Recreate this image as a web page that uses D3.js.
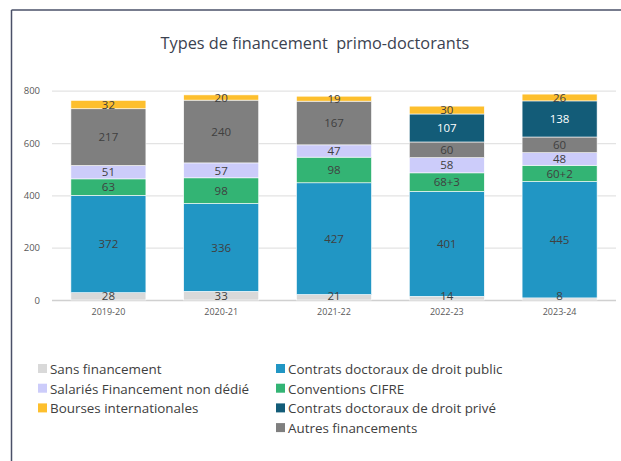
<!DOCTYPE html>
<html>
<head>
<meta charset="utf-8">
<script src="https://cdn.jsdelivr.net/npm/d3@7"></script>
<style>
  body { margin: 0; background: #fff; }
  svg { display: block; font-family: "Open Sans", sans-serif; }
</style>
</head>
<body>
<svg id="chart" width="621" height="461"></svg>
<script>
// years on the x axis
var years = ["2019-20", "2020-21", "2021-22", "2022-23", "2023-24"];

// series values, bottom of the stack first
var sansFinancement = [28, 33, 21, 14, 8];
var contratsPublics = [372, 336, 427, 401, 445];
var cifre = [63, 98, 98, 71, 62];
var cifreLabels = ["63", "98", "98", "68+3", "60+2"];
var salaries = [51, 57, 47, 58, 48];
var autres = [217, 240, 167, 60, 60];
var contratsPrives = [0, 0, 0, 107, 138];
var bourses = [32, 20, 19, 30, 26];

var yTicks = [0, 200, 400, 600, 800];

var series = [
  {key: "sans", name: "Sans financement", values: sansFinancement, color: "#d9d9d9", text: "#404040"},
  {key: "public", name: "Contrats doctoraux de droit public", values: contratsPublics, color: "#2196c4", text: "#404040"},
  {key: "cifre", name: "Conventions CIFRE", values: cifre, labels: cifreLabels, color: "#33b474", text: "#404040"},
  {key: "salaries", name: "Salariés Financement non dédié", values: salaries, color: "#ccccfa", text: "#404040"},
  {key: "autres", name: "Autres financements", values: autres, color: "#7f7f7f", text: "#404040"},
  {key: "prive", name: "Contrats doctoraux de droit privé", values: contratsPrives, color: "#135c78", text: "#ffffff"},
  {key: "bourses", name: "Bourses internationales", values: bourses, color: "#fdbf2d", text: "#404040"}
];

// legend layout follows the reference (two columns)
var legendLeft = ["sans", "salaries", "bourses"];
var legendRight = ["public", "cifre", "prive", "autres"];

var svg = d3.select("#chart");

// frame lines (top and left)
svg.append("line").attr("x1", 11.5).attr("x2", 621).attr("y1", 10).attr("y2", 10)
  .attr("stroke", "#4a5068").attr("stroke-width", 1.5);
svg.append("line").attr("x1", 11.5).attr("x2", 11.5).attr("y1", 10).attr("y2", 461)
  .attr("stroke", "#4a5068").attr("stroke-width", 1.5);

svg.append("text")
  .attr("x", 315).attr("y", 49)
  .attr("text-anchor", "middle")
  .attr("font-size", 16.3)
  .attr("fill", "#3b4250")
  .attr("xml:space", "preserve")
  .text("Types de financement  primo-doctorants");

var x = d3.scaleBand().domain(years).range([52, 616]).paddingInner(0.335).paddingOuter(0.1675);
var y = d3.scaleLinear().domain([0, 800]).range([300, 90.7]);

// gridlines
svg.append("g").selectAll("line").data(yTicks).enter().append("line")
  .attr("x1", 52).attr("x2", 616)
  .attr("y1", function(d) { return y(d) + 0.5; })
  .attr("y2", function(d) { return y(d) + 0.5; })
  .attr("stroke", function(d) { return d == 0 ? "#d0d0d0" : "#e3e3e3"; })
  .attr("stroke-width", function(d) { return d == 0 ? 1.5 : 1.2; });

var yAxis = svg.append("g").attr("transform", "translate(40,0)")
  .call(d3.axisLeft(y).tickValues(yTicks).tickSize(0).tickPadding(0));
yAxis.select(".domain").remove();
yAxis.selectAll("text").attr("font-size", 9.5).attr("fill", "#595959").attr("font-family", "Open Sans, sans-serif");

var xAxis = svg.append("g").attr("transform", "translate(0,300)")
  .call(d3.axisBottom(x).tickSize(0).tickPadding(9));
xAxis.select(".domain").remove();
xAxis.selectAll("text").attr("font-size", 9).attr("fill", "#595959").attr("font-family", "Open Sans, sans-serif");

// build stacks
var table = years.map(function(yr, i) {
  var row = {year: yr};
  series.forEach(function(s) { row[s.key] = s.values[i]; });
  return row;
});
var stack = d3.stack().keys(series.map(function(s) { return s.key; }));
var stacked = stack(table);

var layers = svg.append("g").selectAll("g").data(stacked).enter().append("g")
  .attr("fill", function(d, i) { return series[i].color; });

layers.selectAll("rect").data(function(d) { return d; }).enter().append("rect")
  .filter(function(d) { return d[1] - d[0] > 0; })
  .attr("x", function(d) { return x(d.data.year); })
  .attr("width", x.bandwidth())
  .attr("y", function(d) { return y(d[1]); })
  .attr("height", function(d) { return y(d[0]) - y(d[1]); })
  .attr("stroke", "#ffffff")
  .attr("stroke-width", 0.6);

// value labels
stacked.forEach(function(layer, i) {
  var s = series[i];
  layer.forEach(function(d, j) {
    if (d[1] - d[0] <= 0) return;
    var lbl = s.labels ? s.labels[j] : String(s.values[j]);
    var cy = (y(d[0]) + y(d[1])) / 2;
    if (s.key == "sans") cy = y(d[0]) - 4;
    svg.append("text")
      .attr("x", x(d.data.year) + x.bandwidth() / 2)
      .attr("y", cy)
      .attr("dy", "0.36em")
      .attr("text-anchor", "middle")
      .attr("font-size", 11.5)
      .attr("fill", s.text)
      .text(lbl);
  });
});

// legend
function drawLegend(keys, lx, ly) {
  keys.forEach(function(k, i) {
    var s = series.find(function(d) { return d.key == k; });
    var g = svg.append("g").attr("transform", "translate(" + lx + "," + (ly + i * 19.7) + ")");
    g.append("rect").attr("x", 0).attr("y", -5).attr("width", 9).attr("height", 9).attr("fill", s.color);
    g.append("text").attr("x", 12).attr("y", 0).attr("dy", "0.36em")
      .attr("font-size", 13.4).attr("fill", "#404040").text(s.name);
  });
}
drawLegend(legendLeft, 38, 369);
drawLegend(legendRight, 276, 369);
</script>
</body>
</html>
